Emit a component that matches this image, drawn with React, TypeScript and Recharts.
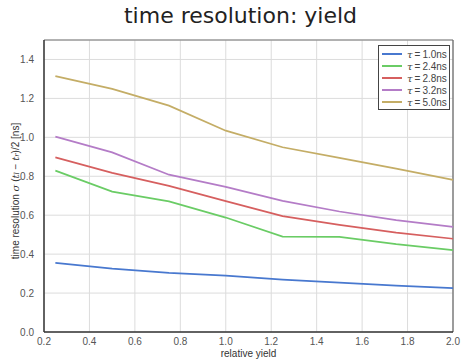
import React from 'react';
import { LineChart, Line, XAxis, YAxis, CartesianGrid, ReferenceLine } from 'recharts';

const yields = [0.25, 0.5, 0.75, 1.0, 1.25, 1.5, 1.75, 2.0];
const tau10 = [0.355, 0.326, 0.304, 0.290, 0.269, 0.254, 0.238, 0.226];
const tau24 = [0.829, 0.721, 0.671, 0.588, 0.490, 0.489, 0.451, 0.420];
const tau28 = [0.897, 0.817, 0.751, 0.672, 0.595, 0.550, 0.511, 0.479];
const tau32 = [1.004, 0.923, 0.808, 0.746, 0.674, 0.619, 0.575, 0.540];
const tau50 = [1.314, 1.249, 1.163, 1.034, 0.949, 0.894, 0.839, 0.782];

const xTicks = [0.2, 0.4, 0.6, 0.8, 1.0, 1.2, 1.4, 1.6, 1.8, 2.0];
const yTicks = [0.0, 0.2, 0.4, 0.6, 0.8, 1.0, 1.2, 1.4];

const series = [
  { key: 't10', label: '1.0ns', values: tau10, color: '#4878CF' },
  { key: 't24', label: '2.4ns', values: tau24, color: '#6ACC65' },
  { key: 't28', label: '2.8ns', values: tau28, color: '#D65F5F' },
  { key: 't32', label: '3.2ns', values: tau32, color: '#B47CC7' },
  { key: 't50', label: '5.0ns', values: tau50, color: '#C4AD66' },
];

const data = yields.map((x, i) => {
  const row: Record<string, number> = { x };
  series.forEach((s) => {
    row[s.key] = s.values[i];
  });
  return row;
});

const FONT = 'Liberation Sans, Arial, sans-serif';

const LegendBox = () => (
  <div
    style={{
      position: 'absolute',
      left: 378,
      top: 45,
      width: 72,
      boxSizing: 'border-box',
      border: '1px solid #444',
      background: '#fff',
      padding: '2px 0px 1px 3px',
      fontFamily: FONT,
      fontSize: 10,
      color: '#444',
      whiteSpace: 'nowrap',
    }}
  >
    {series.map((s) => (
      <div key={s.key} style={{ display: 'flex', alignItems: 'center', height: 12 }}>
        <div style={{ width: 20, height: 2, background: s.color, marginRight: 5, flexShrink: 0 }} />
        <span>
          <span style={{ fontStyle: 'italic', fontFamily: 'DejaVu Serif, serif' }}>τ</span>
          {'\u2009=\u2009' + s.label}
        </span>
      </div>
    ))}
  </div>
);

const YLabel = (props: any) => {
  const vb = props.viewBox || {};
  const cx = 15;
  const cy = vb.y + vb.height / 2 + 5;
  return (
    <text
      x={cx}
      y={cy}
      transform={`rotate(-90 ${cx} ${cy})`}
      textAnchor="middle"
      dominantBaseline="central"
      fontFamily={FONT}
      fontSize={10}
      fill="#333"
    >
      {'time resolution '}
      <tspan fontStyle="italic" fontFamily="DejaVu Serif, serif">σ</tspan>
      {' ('}
      <tspan fontStyle="italic" fontFamily="DejaVu Serif, serif">t</tspan>
      <tspan fontStyle="italic" fontFamily="DejaVu Serif, serif" fontSize={7} dy={2}>l</tspan>
      <tspan dy={-2}>{' − '}</tspan>
      <tspan fontStyle="italic" fontFamily="DejaVu Serif, serif">t</tspan>
      <tspan fontStyle="italic" fontFamily="DejaVu Serif, serif" fontSize={7} dy={2}>r</tspan>
      <tspan dy={-2}>{')/2 [ns]'}</tspan>
    </text>
  );
};

const XLabel = (props: any) => {
  const vb = props.viewBox || {};
  return (
    <text
      x={vb.x + vb.width / 2}
      y={353}
      textAnchor="middle"
      dominantBaseline="central"
      fontFamily={FONT}
      fontSize={10}
      fill="#333"
    >
      relative yield
    </text>
  );
};

export default function App() {
  return (
    <div style={{ position: 'absolute', left: 0, top: 0, width: 461, height: 360, background: '#fff' }}>
      <div
        style={{
          position: 'absolute',
          left: 0,
          top: 3,
          width: 481,
          textAlign: 'center',
          fontFamily: 'DejaVu Sans, sans-serif',
          fontSize: 22,
          color: '#222',
        }}
      >
        time resolution: yield
      </div>
      <LineChart
        width={461}
        height={360}
        data={data}
        margin={{ top: 40, right: 8, left: 0, bottom: 0 }}
      >
        <CartesianGrid stroke="#dcdcdc" strokeWidth={1} />
        <ReferenceLine y={1.5} stroke="#777" strokeWidth={1.2} ifOverflow="extendDomain" />
        <ReferenceLine x={2.0} stroke="#666" strokeWidth={1.2} />
        <XAxis
          dataKey="x"
          type="number"
          domain={[0.2, 2.0]}
          ticks={xTicks}
          tickFormatter={(v: number) => v.toFixed(1)}
          tickLine={false}
          axisLine={{ stroke: '#333', strokeWidth: 1.5 }}
          height={28}
          tick={{ fontSize: 10, fill: '#555', fontFamily: FONT }}
          tickMargin={0}
          label={<XLabel />}
        />
        <YAxis
          type="number"
          domain={[0, 1.5]}
          ticks={yTicks}
          tickFormatter={(v: number) => v.toFixed(1)}
          tickLine={false}
          axisLine={{ stroke: '#333', strokeWidth: 1.5 }}
          width={44}
          tick={{ fontSize: 10, fill: '#555', fontFamily: FONT }}
          tickMargin={4}
          label={<YLabel />}
        />
        {series.map((s) => (
          <Line
            key={s.key}
            dataKey={s.key}
            name={s.label}
            stroke={s.color}
            strokeWidth={1.75}
            dot={false}
            type="linear"
            isAnimationActive={false}
          />
        ))}
      </LineChart>
      <LegendBox />
    </div>
  );
}
